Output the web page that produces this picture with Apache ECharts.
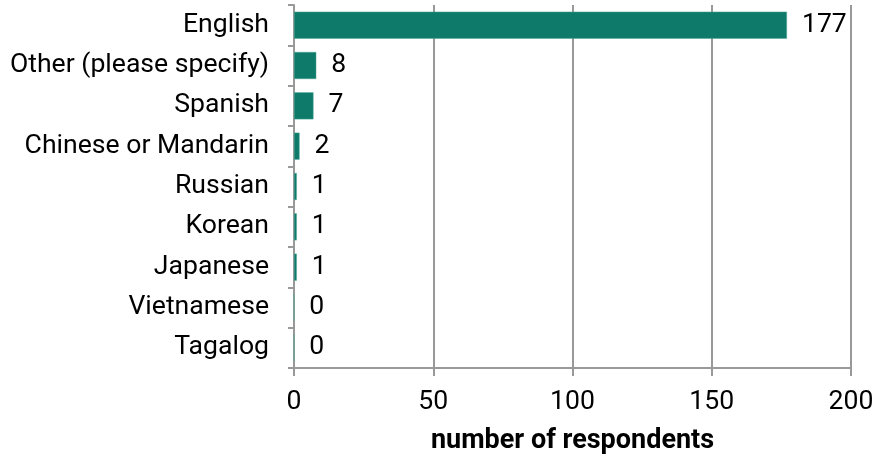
<!DOCTYPE html>
<html><head><meta charset="utf-8">
<script src="https://cdn.jsdelivr.net/npm/echarts@6/dist/echarts.min.js"></script>
<style>html,body{margin:0;padding:0;background:#fff}#c{width:876px;height:456px}</style>
</head><body><div id="c"></div>
<script>
var categories = ["English","Other (please specify)","Spanish","Chinese or Mandarin","Russian","Korean","Japanese","Vietnamese","Tagalog"];
var values = [177,8,7,2,1,1,1,0,0];
var xTicks = [0,50,100,150,200];

var chart = echarts.init(document.getElementById('c'));
chart.setOption({
  animation:false,
  textStyle:{fontFamily:'Roboto'},
  grid:{left:294,right:25,top:5,bottom:88,containLabel:false,outerBoundsMode:'none'},
  xAxis:{
    type:'value',min:xTicks[0],max:xTicks[xTicks.length-1],interval:50,
    name:'number of respondents',nameLocation:'middle',nameGap:60,
    nameTextStyle:{fontFamily:'Roboto',fontWeight:'bold',fontSize:27,color:'#000'},
    axisLine:{show:true,lineStyle:{color:'#999',width:2}},
    axisTick:{show:true,length:8,lineStyle:{color:'#999',width:2}},
    axisLabel:{fontSize:26.6,color:'#000',margin:21,fontFamily:'Roboto'},
    splitLine:{show:true,lineStyle:{color:'#999',width:2}}
  },
  yAxis:{
    type:'category',data:categories,inverse:true,
    axisLine:{show:true,lineStyle:{color:'#999',width:2}},
    axisTick:{show:true,length:6,lineStyle:{color:'#999',width:2}},
    axisLabel:{fontSize:26.6,color:'#000',margin:25,fontFamily:'Roboto'}
  },
  series:[{
    type:'bar',data:values,barCategoryGap:'33%',
    itemStyle:{color:'#0e7a6a',borderColor:'#4fa898',borderWidth:0.5},
    label:{show:true,position:'right',distance:15,fontSize:26.6,color:'#000',fontFamily:'Roboto'}
  }]
});
</script></body></html>
